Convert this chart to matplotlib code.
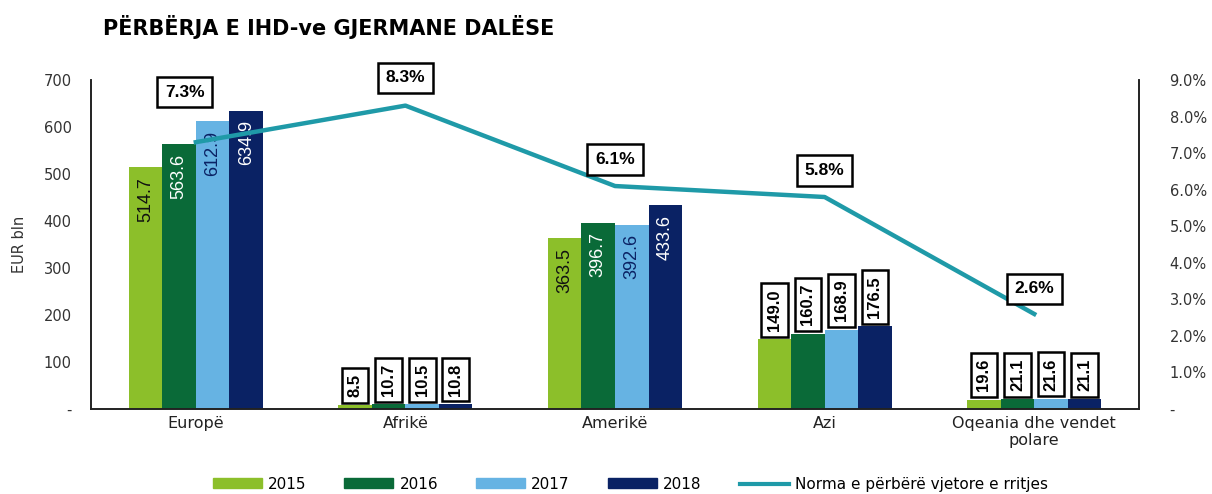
import matplotlib
matplotlib.use("Agg")
import matplotlib.pyplot as plt
from matplotlib.patches import Patch
from matplotlib.lines import Line2D
from matplotlib import font_manager
import numpy as np

regions = ["Europë", "Afrikë", "Amerikë", "Azi", "Oqeania dhe vendet\npolare"]
years = ["2015", "2016", "2017", "2018"]
v2015 = [514.7, 8.5, 363.5, 149.0, 19.6]
v2016 = [563.6, 10.7, 396.7, 160.7, 21.1]
v2017 = [612.9, 10.5, 392.6, 168.9, 21.6]
v2018 = [634.9, 10.8, 433.6, 176.5, 21.1]
growth = [7.3, 8.3, 6.1, 5.8, 2.6]
left_ticks = ["-", "100", "200", "300", "400", "500", "600", "700"]
right_ticks = ["-", "1.0%", "2.0%", "3.0%", "4.0%", "5.0%", "6.0%", "7.0%", "8.0%", "9.0%"]

colors = ["#8cbf2a", "#0a6a38", "#66b3e3", "#0a2264"]
inner_colors = ["#111111", "white", "#0a2264", "white"]
line_color = "#1f9aa8"

plt.rcParams['font.family'] = ['DejaVu Sans']

# narrow font for data labels if present
installed = {f.name for f in font_manager.fontManager.ttflist}
if 'Liberation Sans Narrow' in installed:
    narrow = 'Liberation Sans Narrow'
    lab_size, box_size, pct_size = 14.5, 13.5, 13.5
else:
    narrow = 'Liberation Sans'
    lab_size, box_size, pct_size = 13, 12, 12.5

fig = plt.figure(figsize=(12.12, 4.94), dpi=100)
ax = fig.add_axes([0.0751, 0.172, 0.8647, 0.666])
ax2 = ax.twinx()

x = np.arange(len(regions))
w = 0.16
series = [v2015, v2016, v2017, v2018]
for j, vals in enumerate(series):
    xs = x + (j - 1.5) * w
    ax.bar(xs, vals, width=w, color=colors[j], zorder=2)
    for xi, v in zip(xs, vals):
        if v > 300:
            ax.annotate(f"{v:.1f}", (xi, v), xytext=(0, -7), textcoords="offset points",
                        rotation=90, ha="center", va="top", fontsize=lab_size,
                        color=inner_colors[j], family=narrow)
        else:
            ax.annotate(f"{v:.1f}", (xi, v), xytext=(0, 6), textcoords="offset points",
                        rotation=90, ha="center", va="bottom", fontsize=box_size,
                        fontweight="bold", color="black", family=narrow,
                        bbox=dict(boxstyle="square,pad=0.35", fc="white", ec="black", lw=1.8),
                        zorder=5)

ax.set_xlim(-0.5, len(regions) - 0.5)
ax.set_ylim(0, 700)
ax.set_yticks(np.arange(0, 701, 100))
ax.set_yticklabels(left_ticks, fontsize=10.5, color="#333333")
ax.set_xticks(x)
ax.set_xticklabels(regions, fontsize=11.5, color="#222222")
ax.tick_params(axis="both", length=0)
ax.tick_params(axis="y", pad=14)
ax.tick_params(axis="x", pad=5)
ax.set_ylabel("EUR bln", fontsize=10.5, color="#333333", labelpad=12)
ax.spines["top"].set_visible(False)
ax2.spines["top"].set_visible(False)
for a in (ax, ax2):
    for s in ["left", "right", "bottom"]:
        a.spines[s].set_linewidth(1.2)
        a.spines[s].set_color("#222222")

ax2.plot(x, np.array(growth) / 100, color=line_color, lw=3.2, zorder=3)
ax2.set_ylim(0, 0.09)
ax2.set_yticks(np.arange(0, 0.0901, 0.01))
ax2.set_yticklabels(right_ticks, fontsize=10.5, color="#333333")
ax2.tick_params(axis="y", length=0, pad=22)

offsets = [(-8, 36), (0, 20), (0, 19), (0, 19), (0, 18)]
for xi, g, off in zip(x, growth, offsets):
    ax2.annotate(f"{g:.1f}%", (xi, g / 100), xytext=off, textcoords="offset points",
                 ha="center", va="center", fontsize=pct_size, fontweight="bold",
                 family=narrow,
                 bbox=dict(boxstyle="square,pad=0.45", fc="white", ec="black", lw=1.8),
                 zorder=6)

fig.text(0.085, 0.945, "PËRBËRJA E IHD-ve GJERMANE DALËSE", fontsize=15,
         fontweight="bold", va="center", ha="left")

handles = [Patch(color=c, label=y) for c, y in zip(colors, years)]
handles.append(Line2D([0], [0], color=line_color, lw=3, label="Norma e përbërë vjetore e rritjes"))
fig.legend(handles=handles, loc="center", bbox_to_anchor=(0.52, 0.02), ncol=5,
           frameon=False, fontsize=11, handlelength=3.2, handleheight=0.6,
           columnspacing=2.5, handletextpad=0.4)

fig.savefig("out.png", dpi=100)
